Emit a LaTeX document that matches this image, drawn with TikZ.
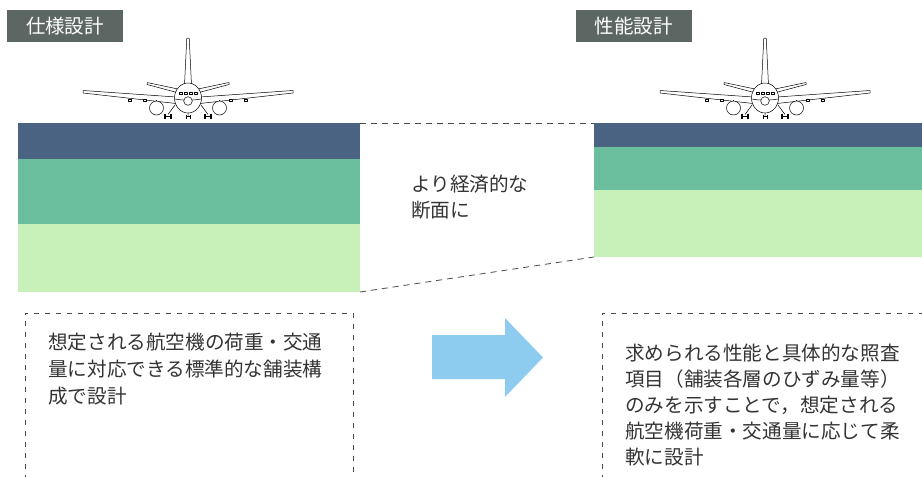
\documentclass[tikz,border=0pt]{standalone}
\usepackage{fontspec}
\setmainfont{Noto Sans CJK JP}

\definecolor{surface}{HTML}{4A6383}
\definecolor{basecourse}{HTML}{6CBF9E}
\definecolor{subgrade}{HTML}{C7F1B8}
\definecolor{tagfill}{HTML}{5C6663}
\definecolor{arrowblue}{HTML}{8DCBEF}
\definecolor{ink}{HTML}{333333}
\definecolor{dashgray}{HTML}{4A4A4A}

\tikzset{
  layer/.style={draw=none, inner sep=0, outer sep=0, anchor=north west},
  tag/.style={fill=tagfill, text=white, inner sep=0, outer sep=0,
    minimum width=116, minimum height=32, font=\fontsize{19.5}{19.5}\selectfont},
  link/.style={draw=dashgray, line width=0.8pt, dash pattern=on 6pt off 5pt},
  frame/.style={draw=dashgray, line width=0.8pt, dash pattern=on 5pt off 6pt},
  note/.style={anchor=north west, align=left, inner sep=0, text=ink},
  plane/.style={draw=black, line width=0.5pt, fill=white, line join=round},
  airplane/.pic={
    % tail fin
    \path[plane] (-3.5,-13) -- (-1.2,-60) -- (1.2,-60) -- (3.5,-13) -- cycle;
    % horizontal stabilisers
    \path[plane] (-10,-9) -- (-41,-15.5) -- (-41,-13.5) -- (-11,-5.5) -- cycle;
    \path[plane] (10,-9) -- (41,-15.5) -- (41,-13.5) -- (11,-5.5) -- cycle;
    % wings
    \path[plane] (-12,-1) -- (-105,-7.5) -- (-105,-5) -- (-12,5.5) -- cycle;
    \path[plane] (12,-1) -- (105,-7.5) -- (105,-5) -- (12,5.5) -- cycle;
    % flap track fairings
    \foreach \fx in {-58,-43,43,58}
      \path[plane, line width=0.4pt] (\fx-1.5,1.2) rectangle (\fx+1.5,3.4);
    % landing gear struts
    \draw[line width=0.5pt] (-13,7) -- (-20,16.5) (13,7) -- (20,16.5) (0,14) -- (0,17.5);
    % engine pylons
    \draw[line width=0.5pt] (-31.5,3) -- (-31.5,1.5) (31.5,3) -- (31.5,1.5);
    % engines
    \path[plane] (-31.5,10) circle (7);
    \path[plane] (31.5,10) circle (7);
    % fuselage
    \path[plane] (0,0) ellipse (13.5 and 15);
    \draw[line width=0.5pt] (-13.2,1) .. controls (-5,2.5) and (5,2.5) .. (13.2,1);
    \foreach \wx in {-7.5,-2.5,2.5,7.5}
      \path[plane, line width=0.45pt] (\wx-1.7,-6.2) rectangle (\wx+1.7,-3.6);
    \path[plane] (0,3) circle (4.3);
    % main and nose gear
    \foreach \gx in {-20,20} {
      \draw[line width=1.1pt] (\gx-3,15.5) -- (\gx-3,20.5) (\gx+3,15.5) -- (\gx+3,20.5);
      \draw[line width=0.8pt] (\gx-3,18) -- (\gx+3,18);
    }
    \draw[line width=0.6pt] (-2.2,16.5) -- (-2.2,20.5) (2.2,16.5) -- (2.2,20.5) (-2.2,18.5) -- (2.2,18.5);
  }
}

\begin{document}
\begin{tikzpicture}[x=1pt, y=-1pt]
  \useasboundingbox (0,0) rectangle (922,477);
  \clip (0,0) rectangle (922,477);

  % section titles
  \node[tag] (tagspec) at (65,26) {仕様設計};
  \node[tag] (tagperf) at (633.5,26) {性能設計};

  % pavement cross-sections
  \node[layer, fill=surface,    minimum width=342, minimum height=36] (pl1) at (18,123) {};
  \node[layer, fill=basecourse, minimum width=342, minimum height=65] (pl2) at (18,159) {};
  \node[layer, fill=subgrade,   minimum width=342, minimum height=68] (pl3) at (18,224) {};

  \node[layer, fill=surface,    minimum width=330, minimum height=24] (pr1) at (594,123) {};
  \node[layer, fill=basecourse, minimum width=330, minimum height=43] (pr2) at (594,147) {};
  \node[layer, fill=subgrade,   minimum width=330, minimum height=67] (pr3) at (594,190) {};

  % aircraft standing on each pavement
  \pic at (188,98) {airplane};
  \pic at (765,98) {airplane};

  % dashed outline joining the two sections
  \draw[link] (pl1.north east) -- (pr1.north west);
  \draw[link] (pl3.south east) -- (pr3.south west);

  \node[note, font=\fontsize{19.6}{26}\selectfont] (thinner) at (411,175)
    {より経済的な\\断面に};

  % explanation frames
  \draw[frame] (25,480) -- (25,313) -- (353,313) -- (353,480);
  \draw[frame] (602,480) -- (602,313) -- (925,313);

  \node[note, font=\fontsize{19.6}{27}\selectfont] (specnote) at (48,333)
    {想定される航空機の荷重・交通\\量に対応できる標準的な舗装構\\成で設計};

  \node[note, font=\fontsize{19.6}{26}\selectfont] (perfnote) at (625,344)
    {求められる性能と具体的な照査\\項目（舗装各層のひずみ量等）\\のみを示すことで，想定される\\航空機荷重・交通量に応じて柔\\軟に設計};

  % transition arrow
  \fill[arrowblue] (432,335) -- (505,335) -- (505,318) -- (543,357.5)
    -- (505,397) -- (505,379) -- (432,379) -- cycle;
\end{tikzpicture}
\end{document}
